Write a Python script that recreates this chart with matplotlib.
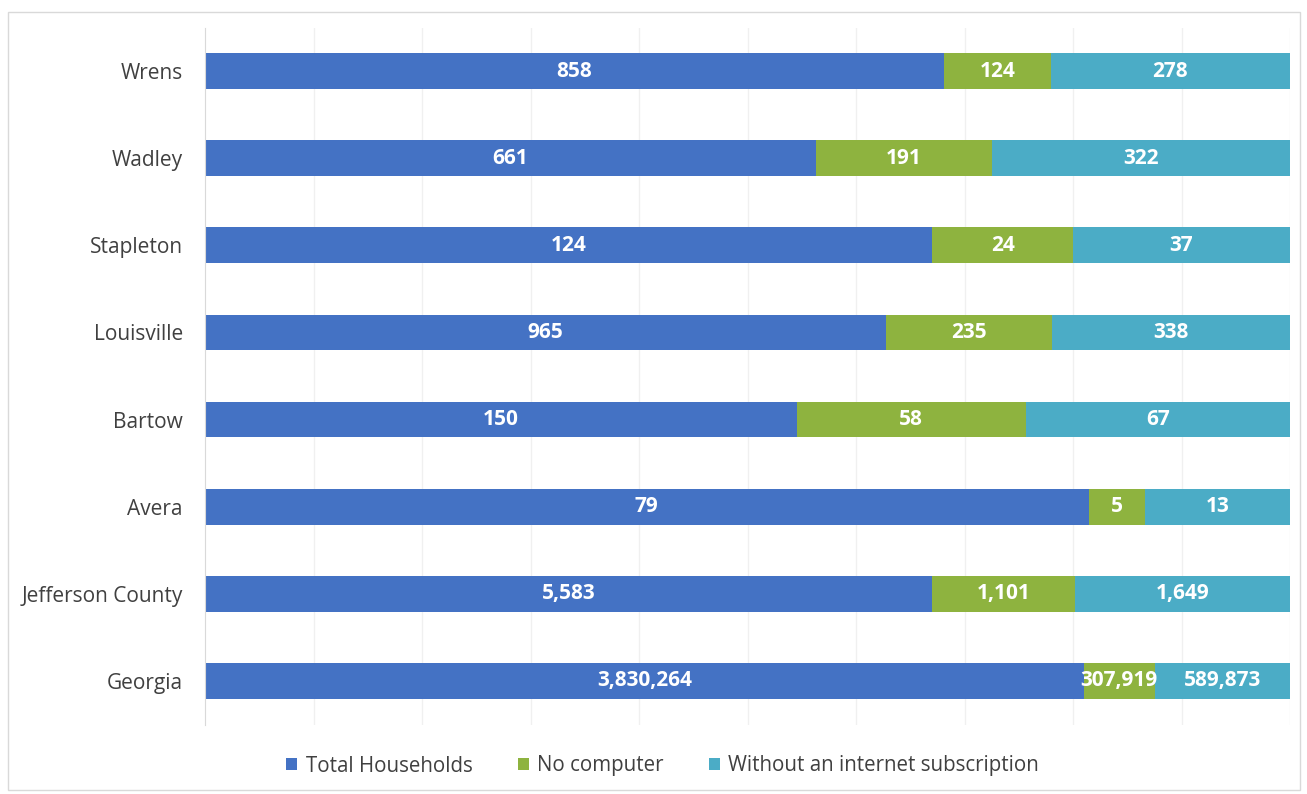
import matplotlib
matplotlib.use("Agg")
import matplotlib.pyplot as plt
from matplotlib.patches import Rectangle
import numpy as np

categories = ["Georgia", "Jefferson County", "Avera", "Bartow", "Louisville",
              "Stapleton", "Wadley", "Wrens"]
total_households = [3830264, 5583, 79, 150, 965, 124, 661, 858]
no_computer = [307919, 1101, 5, 58, 235, 24, 191, 124]
no_internet = [589873, 1649, 13, 67, 338, 37, 322, 278]
series_names = ["Total Households", "No computer", "Without an internet subscription"]
colors = ["#4472C4", "#8EB33F", "#4BACC6"]

plt.rcParams['font.family'] = ['Open Sans', 'DejaVu Sans']

fig = plt.figure(figsize=(13.07, 7.94), dpi=100)
ax = fig.add_axes([205/1307, 1-724.5/794, (1290-205)/1307, (724.5-27.5)/794])

data = np.array([total_households, no_computer, no_internet], dtype=float)
sums = data.sum(axis=0)
shares = data / sums
y = np.arange(len(categories))
left = np.zeros(len(categories))
for i, name in enumerate(series_names):
    bars = ax.barh(y, shares[i], left=left, height=0.41, color=colors[i], label=name, zorder=2)
    for j, b in enumerate(bars):
        ax.text(left[j] + shares[i][j] / 2, y[j], f"{int(data[i][j]):,}",
                ha='center', va='center', color='white', fontsize=15,
                fontweight='bold', zorder=3)
    left += shares[i]

ax.set_xlim(0, 1)
ax.set_ylim(-0.5, len(categories) - 0.5)
ax.set_yticks(y)
ax.set_yticklabels(categories, fontsize=15, color='#404040')
ax.set_xticks(np.linspace(0.1, 1.0, 10))
ax.set_xticklabels([])
ax.tick_params(axis='both', length=0)
ax.tick_params(axis='y', pad=16)
ax.grid(axis='x', color='#F0F0F0', linewidth=1, zorder=0)
for s in ['top', 'right', 'bottom']:
    ax.spines[s].set_visible(False)
ax.spines['left'].set_color('#D9D9D9')

leg = fig.legend(loc='center', bbox_to_anchor=(0.507, 1-766/794), ncol=3, frameon=False,
                 fontsize=14.8, handlelength=0.55, handleheight=0.55, columnspacing=2.2,
                 handletextpad=0.4)
for t in leg.get_texts():
    t.set_color('#404040')

fig.patches.append(Rectangle((8/1307, 4/794), (1300-8)/1307, (782-4)/794,
                             transform=fig.transFigure, fill=False,
                             edgecolor='#D9D9D9', linewidth=1))

fig.savefig("out.png", dpi=100)
